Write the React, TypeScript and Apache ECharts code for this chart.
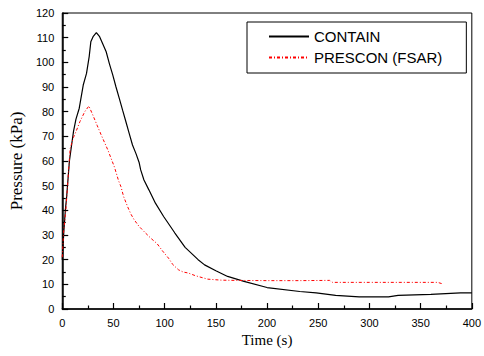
import React, { useEffect, useRef } from "react";
import * as echarts from "echarts";

const xTicks = { min: 0, max: 400, interval: 50 };
const yTicks = { min: 0, max: 120, interval: 10 };

const seriesNames = ["CONTAIN", "PRESCON (FSAR)"];

const containData: [number, number][] = [
  [0, 20], [1.5, 31], [3, 40], [4.4, 46], [5.5, 52], [7, 60], [9.3, 67], [11, 72],
  [13.4, 77], [16.6, 81.4], [18.5, 86], [20.5, 90.8], [23.7, 95.5], [26.3, 102.3],
  [27.9, 108.3], [30.1, 110.4], [33.3, 112], [36.5, 110.4], [39.5, 107.5], [42.9, 104.3],
  [46, 99.5], [49.3, 94.9], [52.5, 90], [55.7, 85.4], [59, 80.5], [62.1, 76], [65.5, 71],
  [68.6, 66.5], [72, 63], [75, 59.5], [76.6, 56.4], [79.8, 52.3], [84.6, 48.3], [91, 42.9],
  [99, 37.5], [110, 30.8], [120, 25], [132.7, 20], [139, 17.9], [150, 15.5], [161.5, 13.2],
  [177.5, 11.2], [200, 8.7], [232, 7.1], [248, 6.5], [267, 5.5], [290, 4.9], [318.6, 4.9],
  [328, 5.5], [360, 5.9], [389, 6.5], [400, 6.5],
];

const presconData: [number, number][] = [
  [0, 21], [1.3, 31], [3.5, 40], [6, 55], [7.7, 65], [10.9, 69.5], [14, 72.5], [17.3, 76],
  [22, 80], [26, 82.3], [30, 78.5], [34, 74.5], [38, 70.6], [44.5, 64.5], [51, 57.5],
  [55, 52], [57.3, 49.6], [60, 45.5], [63.8, 41.5], [67, 38.5], [70.2, 36.2], [75, 33.5],
  [81.3, 30.8], [87, 28.5], [92.6, 26.5], [98, 23.5], [103.8, 20.6], [108, 18],
  [113.5, 15.9], [118, 15], [123, 14.6], [130, 13.5], [142, 12.1], [155, 11.7], [168, 11.6],
  [200, 11.5], [232, 11.5], [261, 11.6], [264, 10.8], [300, 10.8], [340, 10.8],
  [366.6, 10.8], [371.4, 10.2],
];

const sans = "Liberation Sans";
const serif = "Liberation Serif";

export default function App() {
  const ref = useRef<HTMLDivElement>(null);
  useEffect(() => {
    if (!ref.current) return;
    const chart = echarts.init(ref.current, undefined, { renderer: "svg" });
    const axisCommon = {
      axisLine: { show: true, onZero: false, lineStyle: { color: "#000", width: 1.5 } },
      axisTick: { show: true, inside: true, length: 6, lineStyle: { color: "#000", width: 1.2 } },
      minorTick: { show: true, splitNumber: 2, length: 3.5, lineStyle: { color: "#000", width: 1.2 } },
      splitLine: { show: false },
      axisLabel: { color: "#000", fontSize: 11, fontFamily: sans, margin: 8 },
    };
    chart.setOption({
      animation: false,
      backgroundColor: "#fff",
      textStyle: { fontFamily: sans },
      grid: {
        left: 59, right: 10, top: 13, bottom: 47,
        show: true, borderColor: "#000", borderWidth: 1, backgroundColor: "transparent",
      },
      legend: {
        left: 247, top: 22, orient: "vertical",
        data: seriesNames,
        borderColor: "#000", borderWidth: 1,
        padding: [7, 24, 8, 21],
        itemWidth: 40, itemHeight: 14, itemGap: 6,
        itemStyle: { opacity: 0 },
        textStyle: { color: "#000", fontSize: 15, fontFamily: sans },
      },
      xAxis: {
        type: "value", ...axisCommon,
        min: xTicks.min, max: xTicks.max, interval: xTicks.interval,
        name: "Time (s)", nameLocation: "middle", nameGap: 20,
        nameTextStyle: { color: "#000", fontFamily: serif, fontSize: 15, fontWeight: "normal" },
      },
      yAxis: {
        type: "value", ...axisCommon,
        min: yTicks.min, max: yTicks.max, interval: yTicks.interval,
        name: "Pressure (kPa)", nameLocation: "middle", nameGap: 34,
        nameTextStyle: { color: "#000", fontFamily: serif, fontSize: 17, fontWeight: "normal" },
      },
      series: [
        {
          name: seriesNames[0], type: "line", data: containData,
          symbol: "none", lineStyle: { color: "#000", width: 1.2 }, itemStyle: { color: "#000" },
        },
        {
          name: seriesNames[1], type: "line", data: presconData,
          symbol: "none",
          lineStyle: { color: "#ff0000", width: 1, type: [3, 2, 1, 2] },
          itemStyle: { color: "#ff0000" },
        },
      ],
    });
    return () => chart.dispose();
  }, []);
  return (
    <div
      ref={ref}
      style={{ position: "fixed", left: 0, top: 0, width: 484, height: 356 }}
    />
  );
}
